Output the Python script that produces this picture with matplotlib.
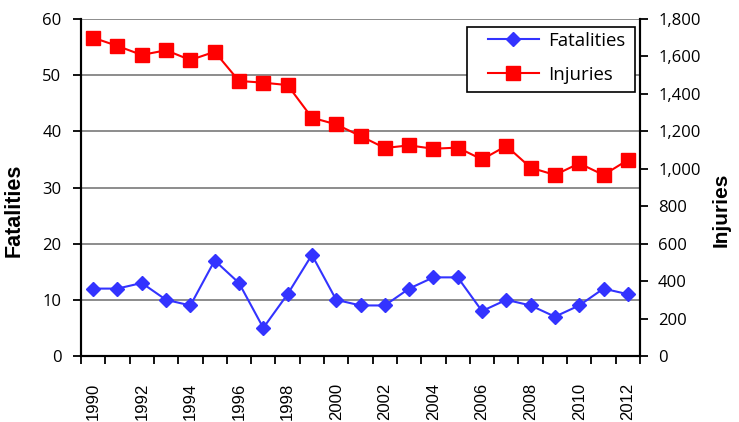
import matplotlib
matplotlib.use("Agg")
import matplotlib.pyplot as plt
from matplotlib.ticker import FuncFormatter, MultipleLocator
from matplotlib.patches import Rectangle

years = list(range(1990, 2013))
fatalities = [12, 12, 13, 10, 9, 17, 13, 5, 11, 18, 10, 9, 9, 12, 14, 14, 8, 10, 9, 7, 9, 12, 11]
injuries = [1700, 1656, 1608, 1633, 1581, 1625, 1469, 1460, 1447, 1273, 1237, 1175, 1111,
            1125, 1107, 1113, 1050, 1122, 1006, 967, 1029, 967, 1047]

tick_font = "Open Sans"
x = list(range(len(years)))

W, H = 739, 422
fig = plt.figure(figsize=(W / 100, H / 100), dpi=100)
ax = fig.add_axes([81 / W, 1 - 356 / H, (640 - 81) / W, (356 - 19) / H])
ax2 = ax.twinx()

blue = "#3333FF"
red = "#FF0000"

l1, = ax.plot(x, fatalities, color=blue, lw=1.5, marker="D", markersize=7.2,
              markeredgecolor=blue, markerfacecolor=blue, zorder=3, label="Fatalities")
l2, = ax2.plot(x, injuries, color=red, lw=1.5, marker="s", markersize=9.5,
               markeredgecolor=red, markerfacecolor=red, zorder=3, label="Injuries")

ax.set_ylim(0, 60)
ax.yaxis.set_major_locator(MultipleLocator(10))
ax2.set_ylim(0, 1800)
ax2.yaxis.set_major_locator(MultipleLocator(200))
ax2.yaxis.set_major_formatter(FuncFormatter(lambda v, p: f"{int(v):,}"))

ax.set_xlim(-0.5, len(years) - 0.5)
ax.set_xticks(x[::2])
ax.set_xticklabels([str(y) for y in years[::2]], rotation=90, family="Liberation Sans", fontsize=12)
ax.set_xticks([i - 0.5 for i in range(len(years) + 1)], minor=True)
ax.tick_params(axis="x", which="major", length=0, pad=19)
ax.tick_params(axis="x", which="minor", length=6, width=1.3, direction="out")

ax.grid(axis="y", color="#8c8c8c", lw=1.4, zorder=0)
ax.set_axisbelow(True)

for a in (ax, ax2):
    a.spines["top"].set_visible(False)
    for s in ("left", "right", "bottom"):
        a.spines[s].set_linewidth(1.5)
        a.spines[s].set_color("black")

ax.tick_params(axis="y", length=6, width=1.3, direction="out", pad=8)
ax2.tick_params(axis="y", length=6, width=1.3, direction="out", pad=7)
for lab in ax.get_yticklabels() + ax2.get_yticklabels():
    lab.set_family(tick_font)
    lab.set_fontsize(12)

ax.set_ylabel("Fatalities", family="Liberation Sans", fontweight="bold", fontsize=15.5)
ax.yaxis.set_label_coords(-0.100, 0.433)
ax2.set_ylabel("Injuries", family="Liberation Sans", fontweight="bold", fontsize=15)
ax2.yaxis.set_label_coords(1.129, 0.433)

# legend frame drawn as a figure-level rectangle
frame = Rectangle((467 / W, 1 - 92 / H), (635 - 467) / W, (92 - 27) / H,
                  transform=fig.transFigure, facecolor="white", edgecolor="black",
                  lw=1.2, zorder=5)
fig.patches.append(frame)

leg = fig.legend(handles=[l1, l2], loc="upper left", bbox_to_anchor=(486 / W, 1 - 30 / H),
                 bbox_transform=fig.transFigure, frameon=False,
                 prop={"family": tick_font, "size": 13.4}, handlelength=2.75,
                 borderpad=0.1, labelspacing=0.85, handletextpad=0.5, borderaxespad=0)
leg.set_zorder(6)

fig.savefig("out.png", dpi=100)
